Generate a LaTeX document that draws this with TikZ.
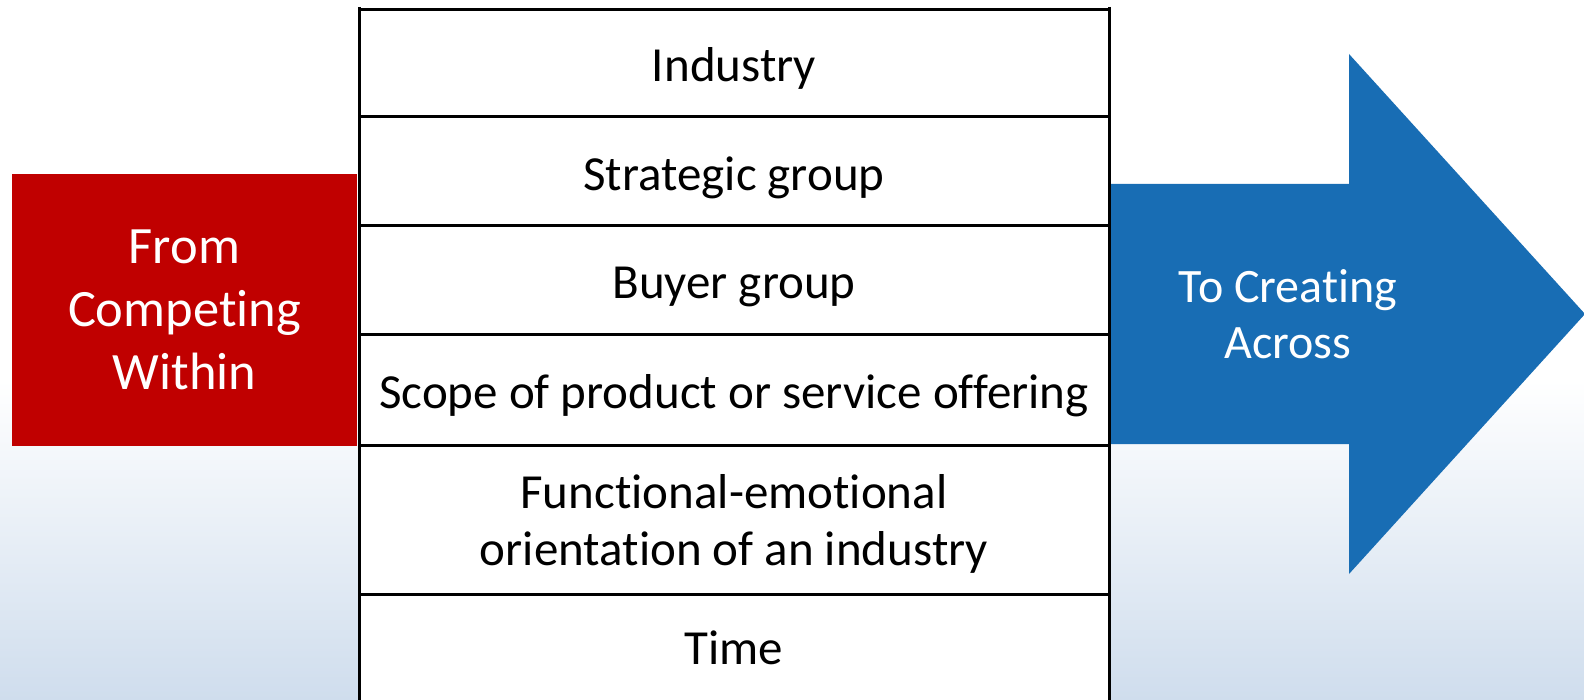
\documentclass[tikz,border=0pt]{standalone}
\usepackage{fontspec}
\setmainfont{Carlito}[Ligatures={NoCommon,NoRequired,NoContextual}]
\definecolor{redfill}{HTML}{C00000}
\definecolor{bluefill}{HTML}{186DB4}
\definecolor{bgblue}{RGB}{207,221,237}
\begin{document}
\begin{tikzpicture}[x=1pt,y=-1pt,
  lbl/.style={inner sep=0pt, font=\fontsize{49}{57}\selectfont, align=center, text=black},
  rowbox/.style={draw=black, line width=3pt, fill=white, minimum width=750pt, inner sep=0pt},
  redbox/.style={fill=redfill, inner sep=0pt, minimum width=345pt, minimum height=272pt, text=white, align=center, font=\fontsize{52.5}{63}\selectfont},
  bluelbl/.style={inner sep=0pt, text=white, align=center, font=\fontsize{48}{56}\selectfont}]
\useasboundingbox (0,0) rectangle (1584,700);
% background
\fill[white] (0,0) rectangle (1584,700);
\fill[top color=white, bottom color=bgblue] (0,380) rectangle (1584,700);
% red box
\node[redbox] (from) at (184.5,310) {From\\Competing\\Within};
% blue arrow
\fill[bluefill] (1109,184) -- (1349,184) -- (1349,54) -- (1585,314) -- (1349,574) -- (1349,444) -- (1109,444) -- cycle;
\node[bluelbl] (to) at (1288,314.5) {To Creating\\Across};
% table rows
\node[rowbox, minimum height=107.5pt] (r1) at (734,63.25) {};
\node[rowbox, minimum height=109pt] (r2) at (734,171.5) {};
\node[rowbox, minimum height=109pt] (r3) at (734,280.5) {};
\node[rowbox, minimum height=110pt] (r4) at (734,390) {};
\node[rowbox, minimum height=149pt] (r5) at (734,519.5) {};
\node[rowbox, minimum height=120pt] (r6) at (734,654) {};
\draw[line width=3pt] (359,7) -- (359,700);
\draw[line width=3pt] (1109,7) -- (1109,700);
% labels
\node[lbl, anchor=base] (t1) at (734,81.5) {Industry};
\node[lbl, anchor=base] (t2) at (734,190.5) {Strategic group};
\node[lbl, anchor=base] (t3) at (734,299) {Buyer group};
\node[lbl, anchor=base] (t4) at (734,408.5) {Scope of product or service offering};
\node[lbl] (t5) at ([yshift=-4pt]r5.center) {Functional-emotional\\orientation of an industry};
\node[lbl, anchor=base] (t6) at (734,664) {Time};
\end{tikzpicture}
\end{document}
